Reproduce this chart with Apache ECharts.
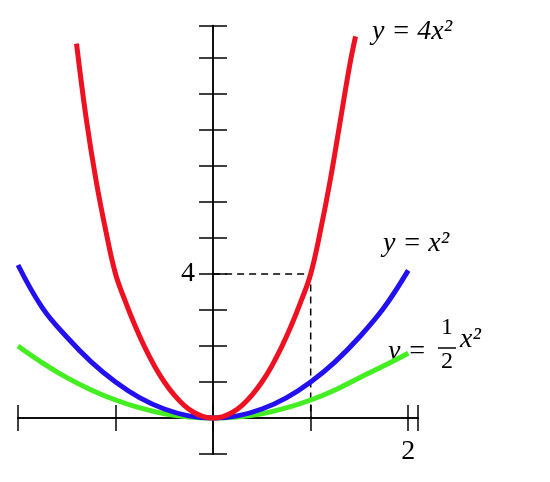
<!DOCTYPE html>
<html><head><meta charset="utf-8">
<script src="https://cdn.jsdelivr.net/npm/echarts@6/dist/echarts.min.js"></script>
<style>html,body{margin:0;background:#fff}#main{width:550px;height:482px}</style>
</head><body><div id="main"></div>
<script>
// y = 4x^2
var redX = [-1.4,-1.3,-1.2,-1.1,-1,-0.9,-0.8,-0.7,-0.6,-0.5,-0.4,-0.3,-0.2,-0.1,0,0.1,0.2,0.3,0.4,0.5,0.6,0.7,0.8,0.9,1,1.1,1.2,1.3,1.4,1.46];
var redY = [10.4,8.3,6.6,5.2,4.0,3.24,2.56,1.96,1.44,1.0,0.64,0.36,0.16,0.04,0,0.04,0.16,0.36,0.64,1.0,1.44,1.96,2.56,3.24,4.0,5.2,6.6,8.2,9.8,10.6];
// y = x^2
var blueX = [-2,-1.75,-1.5,-1.25,-1,-0.75,-0.5,-0.25,0,0.25,0.5,0.75,1,1.25,1.5,1.75,2];
var blueY = [4.25,3.06,2.25,1.56,1,0.56,0.25,0.06,0,0.06,0.25,0.56,1,1.56,2.25,3.06,4.1];
// y = x^2 / 2
var greenX = [-2,-1.75,-1.5,-1.25,-1,-0.75,-0.5,-0.25,0,0.25,0.5,0.75,1,1.25,1.5,1.75,2];
var greenY = [2.0,1.53,1.12,0.78,0.5,0.28,0.12,0.03,0,0.03,0.12,0.28,0.5,0.78,1.12,1.45,1.8];
var guideX = [0,1,1];
var guideY = [4,4,0];

function pts(xs, ys){ return xs.map(function(x,i){ return [x, ys[i]]; }); }
function curve(xs, ys, c){
  return {type:'line', data:pts(xs,ys), smooth:0.4, showSymbol:false, lineStyle:{color:c,width:5}, z:5};
}
var font = 'Liberation Serif';
// axes sit on the zero lines via offset (x=0 is 195px right of grid left, y=0 is 36px above grid bottom)
var ax = function(inside, show){
  return {type:'value', min:-2, max:2.1, interval:1, position:'bottom', offset:-36, splitLine:{show:false},
    axisLine:{onZero:false, lineStyle:{color:'#000',width:1.5}},
    axisTick:{inside:inside, length:13, lineStyle:{color:'#000',width:1.5}},
    axisLabel:{show:show, margin:20, fontFamily:font, fontSize:28, color:'#000',
      formatter:function(v){ return v===2?'2':''; }}};
};
var ay = function(inside, show){
  return {type:'value', min:-1, max:10.9, interval:1, position:'left', offset:-195, splitLine:{show:false},
    axisLine:{onZero:false, lineStyle:{color:'#000',width:1.5}},
    axisTick:{inside:inside, length:14, lineStyle:{color:'#000',width:1.5}},
    axisLabel:{show:show, margin:18, fontFamily:font, fontSize:28, color:'#000',
      formatter:function(v){ return v===4?'4':''; }}};
};
var chart = echarts.init(document.getElementById('main'));
var ts = {fontFamily:font, fontSize:28, fontStyle:'italic', fill:'#000'};
chart.setOption({
  animation:false,
  grid:{left:18, width:400, top:25.6, height:428.4, outerBoundsMode:'none', containLabel:false},
  xAxis:[ax(false,true), ax(true,false)],
  yAxis:[ay(false,true), ay(true,false)],
  series:[
    {type:'line', data:pts(guideX,guideY), showSymbol:false, lineStyle:{color:'#000',width:1.5,type:[7,5]}, z:3},
    curve(greenX, greenY, '#44ee22'),
    curve(blueX, blueY, '#2211ee'),
    curve(redX, redY, '#ee1122')
  ],
  graphic:[
    {type:'text', left:372, top:18, style:Object.assign({text:'y = 4x²'}, ts)},
    {type:'text', left:383, top:230, style:Object.assign({text:'y = x²'}, ts)},
    {type:'text', left:388, top:338, style:Object.assign({text:'y ='}, ts)},
    {type:'text', left:441, top:316, style:Object.assign({}, ts, {text:'1', fontStyle:'normal', fontSize:24})},
    {type:'line', shape:{x1:438,y1:348,x2:456,y2:348}, style:{stroke:'#000',lineWidth:1.5}},
    {type:'text', left:441, top:350, style:Object.assign({}, ts, {text:'2', fontStyle:'normal', fontSize:24})},
    {type:'text', left:460, top:326, style:Object.assign({text:'x²'}, ts)}
  ]
});
</script></body></html>
